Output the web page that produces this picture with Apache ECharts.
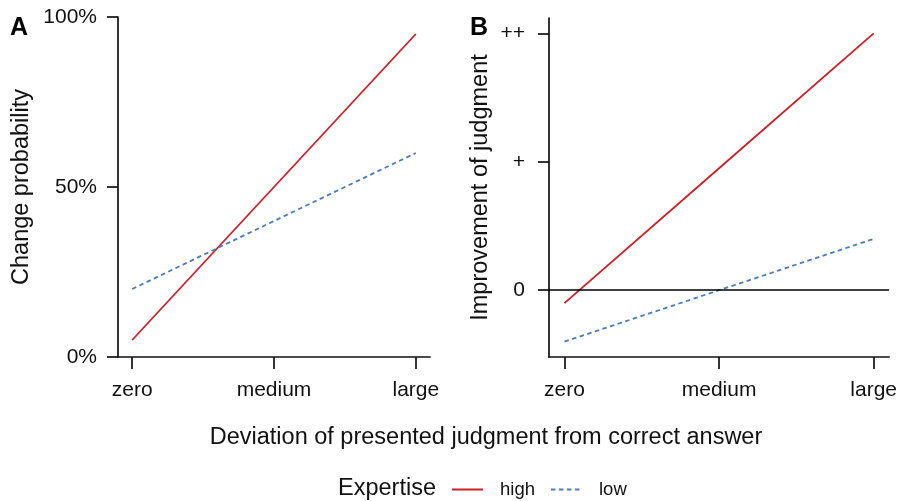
<!DOCTYPE html>
<html><head><meta charset="utf-8">
<script src="https://cdn.jsdelivr.net/npm/echarts@6/dist/echarts.min.js"></script>
<style>html,body{margin:0;padding:0;background:#fff}#c{width:900px;height:501px}</style>
</head><body><div id="c"></div>
<script>
const categories = ['zero', 'medium', 'large'];
const xPos = [0, 1, 2];
const probHigh = [0.05, 0.50, 0.95];
const probLow = [0.20, 0.40, 0.60];
const improveHigh = [-0.10, 0.95, 2.00];
const improveLow = [-0.40, 0.00, 0.40];
const probTicks = [0, 0.5, 1];
const probTickLabels = ['0%', '50%', '100%'];
const improveTicks = [0, 1, 2];
const improveTickLabels = ['0', '+', '++'];
const seriesNames = ['high', 'low'];

const FONT = '"Liberation Sans", Arial, Helvetica, sans-serif';
const RED = '#cc2027';
const BLUE = '#4a7bc0';
const INK = '#111';

function pts(vals) { return xPos.map((x, i) => [x, vals[i]]); }

function xAxis(idx) {
  return {
    type: 'value', gridIndex: idx, min: -0.1, max: 2.1,
    axisLine: { show: true, onZero: false, lineStyle: { color: INK, width: 1.7 } },
    axisTick: { show: true, customValues: xPos, length: 12, lineStyle: { color: INK, width: 1.7 } },
    axisLabel: { customValues: xPos, margin: 23, fontSize: 21, color: INK, fontFamily: FONT,
      formatter: v => categories[xPos.indexOf(v)] },
    splitLine: { show: false }
  };
}

const option = {
  backgroundColor: '#fff',
  animation: false,
  grid: [
    { left: 118, top: 17, width: 312, height: 340 },
    { left: 549, top: 18, width: 341, height: 339 }
  ],
  xAxis: [xAxis(0), xAxis(1)],
  yAxis: [
    {
      type: 'value', gridIndex: 0, min: 0, max: 1,
      name: 'Change probability', nameLocation: 'middle', nameGap: 84,
      nameTextStyle: { fontSize: 23.5, color: INK, fontFamily: FONT },
      axisLine: { show: true, onZero: false, lineStyle: { color: INK, width: 1.7 } },
      axisTick: { show: true, customValues: probTicks, length: 11, lineStyle: { color: INK, width: 1.7 } },
      axisLabel: { customValues: probTicks, margin: 21, fontSize: 21, color: INK, fontFamily: FONT,
        formatter: v => probTickLabels[probTicks.indexOf(v)] },
      splitLine: { show: false }
    },
    {
      type: 'value', gridIndex: 1, min: -0.52, max: 2.12,
      name: 'Improvement of judgment', nameLocation: 'middle', nameGap: 56,
      nameTextStyle: { fontSize: 23.5, color: INK, fontFamily: FONT },
      axisLine: { show: true, onZero: false, lineStyle: { color: INK, width: 1.7 } },
      axisTick: { show: true, customValues: improveTicks, length: 11, lineStyle: { color: INK, width: 1.7 } },
      axisLabel: { customValues: improveTicks, margin: 24, fontSize: 21, color: INK, fontFamily: FONT,
        formatter: v => improveTickLabels[improveTicks.indexOf(v)] },
      splitLine: { show: false }
    }
  ],
  legend: {
    data: seriesNames,
    left: 446, top: 475,
    itemWidth: 31, itemHeight: 18, itemGap: 15,
    itemStyle: { opacity: 0 },
    textStyle: { fontSize: 18.5, color: INK, fontFamily: FONT, padding: [0, 0, 0, 12] }
  },
  graphic: [
    { type: 'text', left: 10, top: 16, style: { text: 'A', font: 'bold 25px ' + FONT, fill: '#000' } },
    { type: 'text', left: 470, top: 16, style: { text: 'B', font: 'bold 25px ' + FONT, fill: '#000' } },
    { type: 'text', x: 486, y: 438, style: { text: 'Deviation of presented judgment from correct answer',
      font: '23.5px ' + FONT, fill: INK, align: 'center', verticalAlign: 'middle' } },
    { type: 'text', x: 338, y: 489, style: { text: 'Expertise',
      font: '23.5px ' + FONT, fill: INK, align: 'left', verticalAlign: 'middle' } }
  ],
  series: [
    { name: seriesNames[0], type: 'line', xAxisIndex: 0, yAxisIndex: 0, data: pts(probHigh),
      symbol: 'none', color: RED, lineStyle: { color: RED, width: 1.8 } },
    { name: seriesNames[1], type: 'line', xAxisIndex: 0, yAxisIndex: 0, data: pts(probLow),
      symbol: 'none', color: BLUE, lineStyle: { color: BLUE, width: 1.8, type: [4.5, 3.5] } },
    { name: seriesNames[0], type: 'line', xAxisIndex: 1, yAxisIndex: 1, data: pts(improveHigh),
      symbol: 'none', color: RED, lineStyle: { color: RED, width: 1.8 },
      markLine: { silent: true, symbol: 'none', label: { show: false },
        lineStyle: { color: '#000', width: 1.7, type: 'solid' }, data: [{ yAxis: 0 }] } },
    { name: seriesNames[1], type: 'line', xAxisIndex: 1, yAxisIndex: 1, data: pts(improveLow),
      symbol: 'none', color: BLUE, lineStyle: { color: BLUE, width: 1.8, type: [4.5, 3.5] } }
  ]
};

echarts.init(document.getElementById('c'), null, { renderer: 'canvas' }).setOption(option);
</script>
</body></html>
